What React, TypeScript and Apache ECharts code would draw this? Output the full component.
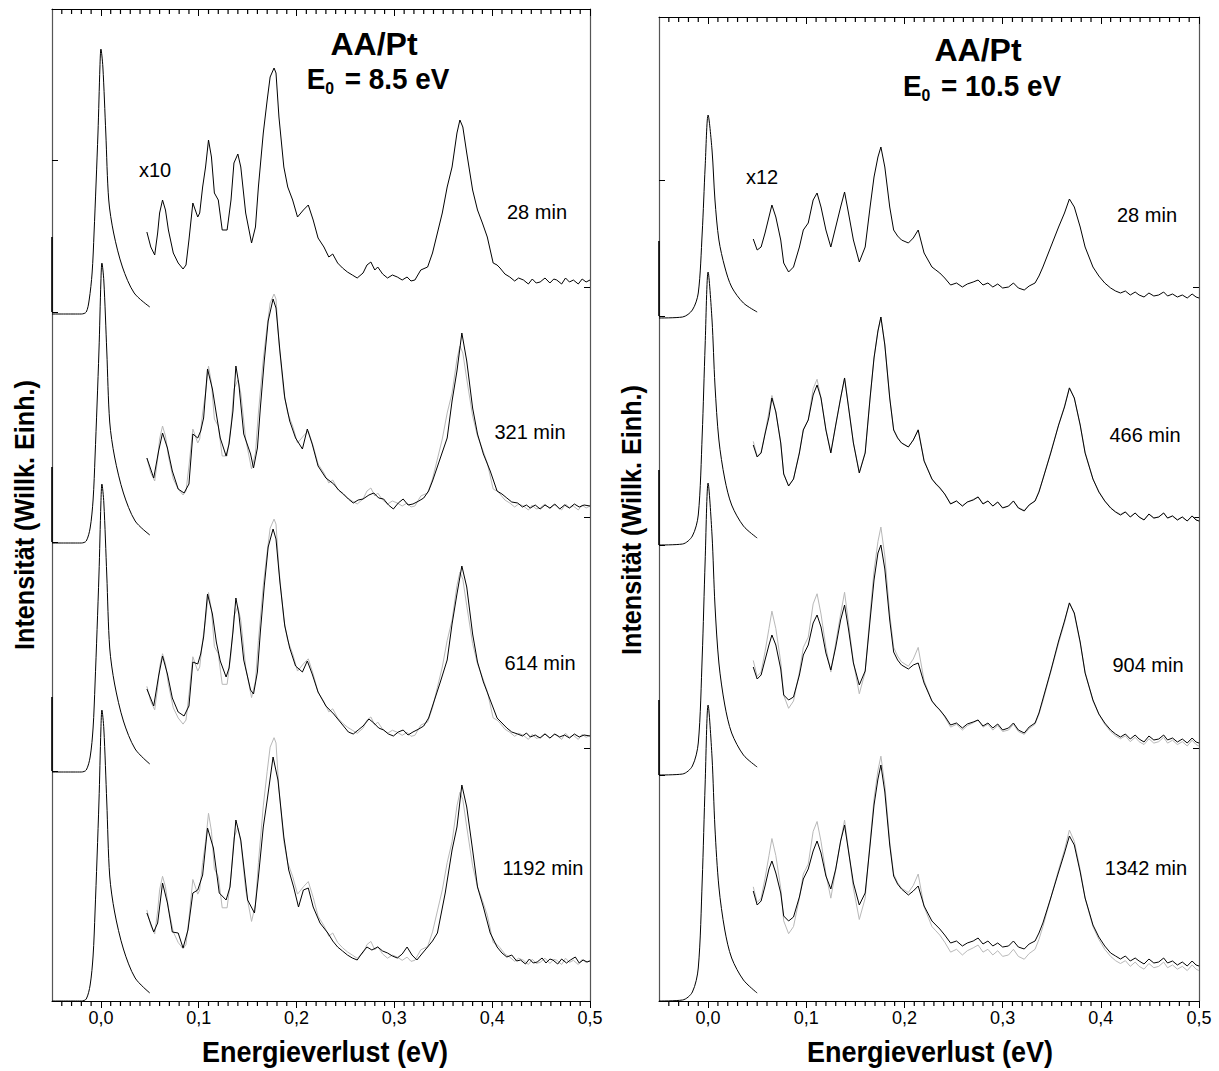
import React, { useEffect, useRef } from "react";
import * as echarts from "echarts";

const FONT = '"Liberation Sans", Arial, Helvetica, sans-serif';

// ---------- axis ticks ----------
const xMajor = [0, 0.1, 0.2, 0.3, 0.4, 0.5];
const xMinor = [-0.04,-0.03,-0.02,-0.01,0.01,0.02,0.03,0.04,0.05,0.06,0.07,0.08,0.09,0.11,0.12,0.13,0.14,0.15,0.16,0.17,0.18,0.19,0.21,0.22,0.23,0.24,0.25,0.26,0.27,0.28,0.29,0.31,0.32,0.33,0.34,0.35,0.36,0.37,0.38,0.39,0.41,0.42,0.43,0.44,0.45,0.46,0.47,0.48,0.49];
const xLabelText = (v: number) => v.toFixed(1).replace(".", ",");

// ---------- LEFT PANEL  (E0 = 8.5 eV, x10) ----------
const L_times = ["28 min", "321 min", "614 min", "1192 min"];
const L_base = [687, 458, 229, 0];
const L_greyOff = [0, 3, 2, 5];
const L_greyScale = [1, 1.0, 1.02, 1.05];
const L_yMax = 992;
const L_leftTicks = [841, 689, 459, 230];
const L_rightTicks = [714, 484, 253];

const L_el_28: [number, number][] = [[-0.05,0],[-0.02,0],[-0.015,2],[-0.012,14],[-0.009,41],[-0.007,81],[-0.003,181],[-0.001,247],[0,265],[0.002,247],[0.005,181],[0.008,114],[0.013,81],[0.022,47],[0.034,21],[0.05,7]];
const L_el_321: [number, number][] = [[-0.05,0],[-0.02,0],[-0.015,2],[-0.011,15],[-0.008,43],[-0.006,86],[-0.002,192],[0,262],[0.001,280],[0.003,262],[0.006,192],[0.009,121],[0.014,86],[0.023,50],[0.035,22],[0.05,8]];
const L_el_614: [number, number][] = [[-0.05,0],[-0.02,0],[-0.015,2],[-0.011,15],[-0.008,44],[-0.006,88],[-0.002,197],[0,269],[0.001,288],[0.003,269],[0.006,197],[0.009,124],[0.014,88],[0.023,51],[0.035,23],[0.05,8]];
const L_el_1192: [number, number][] = [[-0.05,0],[-0.02,0],[-0.015,2],[-0.011,16],[-0.008,45],[-0.006,89],[-0.002,199],[0,272],[0.001,291],[0.003,272],[0.006,199],[0.009,125],[0.014,89],[0.023,52],[0.035,23],[0.05,8]];

const L_loss_28: [number, number][] = [[0.047,82],[0.051,67],[0.055,59],[0.058,81],[0.060,101],[0.063,114],[0.066,104],[0.069,84],[0.074,61],[0.079,51],[0.084,45],[0.087,49],[0.090,74],[0.094,111],[0.099,97],[0.101,101],[0.104,127],[0.107,147],[0.110,174],[0.113,157],[0.116,121],[0.120,114],[0.124,84],[0.129,84],[0.133,114],[0.136,151],[0.140,160],[0.143,147],[0.148,101],[0.154,71],[0.158,87],[0.161,127],[0.166,181],[0.170,214],[0.173,237],[0.177,246],[0.179,241],[0.182,197],[0.187,147],[0.191,127],[0.196,114],[0.201,97],[0.207,104],[0.212,109],[0.217,94],[0.222,76],[0.228,67],[0.233,57],[0.237,60],[0.242,51],[0.247,46],[0.252,42],[0.257,39],[0.262,36],[0.268,41],[0.272,49],[0.276,52],[0.280,44],[0.283,47],[0.288,40],[0.293,36],[0.298,39],[0.303,37],[0.308,34],[0.313,37],[0.317,33],[0.321,34],[0.327,44],[0.334,47],[0.339,61],[0.344,81],[0.349,101],[0.354,127],[0.359,147],[0.364,181],[0.367,194],[0.370,187],[0.374,161],[0.380,124],[0.385,104],[0.390,91],[0.395,77],[0.401,51],[0.405,49],[0.408,46],[0.413,40],[0.418,37],[0.423,33],[0.427,36],[0.432,34],[0.437,30],[0.441,35],[0.445,31],[0.449,32],[0.454,36],[0.459,31],[0.463,35],[0.466,34],[0.471,30],[0.475,36],[0.479,32],[0.483,34],[0.488,30],[0.492,35],[0.496,32],[0.500,34]];
const L_loss_321: [number, number][] = [[0.047,85],[0.054,65],[0.059,92],[0.063,110],[0.068,95],[0.073,72],[0.079,54],[0.085,50],[0.090,59],[0.094,109],[0.099,105],[0.102,112],[0.105,125],[0.109,174],[0.114,154],[0.118,129],[0.122,105],[0.128,87],[0.131,99],[0.135,132],[0.138,177],[0.141,159],[0.146,109],[0.153,89],[0.156,75],[0.160,95],[0.163,135],[0.167,182],[0.171,222],[0.176,244],[0.179,235],[0.183,192],[0.188,145],[0.193,122],[0.199,105],[0.206,94],[0.211,114],[0.216,99],[0.222,77],[0.230,65],[0.238,59],[0.243,53],[0.248,49],[0.253,44],[0.258,40],[0.263,43],[0.268,44],[0.274,48],[0.279,50],[0.284,45],[0.289,44],[0.294,38],[0.299,34],[0.304,40],[0.309,44],[0.314,38],[0.319,39],[0.325,42],[0.330,45],[0.335,52],[0.339,62],[0.347,85],[0.354,105],[0.359,142],[0.364,172],[0.369,210],[0.374,182],[0.380,135],[0.385,109],[0.391,89],[0.398,72],[0.405,52],[0.410,49],[0.415,45],[0.420,41],[0.426,40],[0.431,36],[0.435,38],[0.439,35],[0.444,38],[0.449,34],[0.454,38],[0.459,35],[0.464,39],[0.469,34],[0.474,38],[0.479,35],[0.484,39],[0.489,36],[0.494,38],[0.500,37]];
const L_loss_614: [number, number][] = [[0.047,83],[0.054,66],[0.059,96],[0.063,116],[0.068,98],[0.073,74],[0.079,60],[0.085,56],[0.090,66],[0.094,110],[0.099,108],[0.102,118],[0.105,135],[0.109,178],[0.114,158],[0.118,130],[0.122,111],[0.128,95],[0.131,104],[0.135,140],[0.138,174],[0.141,158],[0.146,112],[0.153,82],[0.156,78],[0.160,100],[0.163,140],[0.167,186],[0.171,225],[0.176,243],[0.179,233],[0.183,190],[0.188,146],[0.193,124],[0.199,106],[0.206,100],[0.211,111],[0.216,98],[0.222,80],[0.230,66],[0.238,58],[0.243,52],[0.248,46],[0.253,40],[0.258,38],[0.263,42],[0.268,46],[0.274,53],[0.279,49],[0.284,44],[0.289,42],[0.294,38],[0.299,36],[0.304,40],[0.309,42],[0.314,37],[0.319,40],[0.325,43],[0.330,46],[0.335,54],[0.339,66],[0.347,90],[0.354,112],[0.359,148],[0.364,178],[0.369,206],[0.374,185],[0.380,138],[0.385,110],[0.391,90],[0.398,72],[0.405,54],[0.410,49],[0.415,44],[0.420,40],[0.426,38],[0.431,36],[0.435,39],[0.439,35],[0.444,37],[0.449,34],[0.454,38],[0.459,34],[0.464,38],[0.469,35],[0.474,37],[0.479,34],[0.484,38],[0.489,35],[0.494,37],[0.500,36]];
const L_loss_1192: [number, number][] = [[0.047,88],[0.054,69],[0.058,78],[0.063,118],[0.068,98],[0.073,69],[0.079,68],[0.084,53],[0.089,71],[0.094,108],[0.099,111],[0.104,126],[0.109,173],[0.115,153],[0.121,108],[0.128,101],[0.132,114],[0.138,181],[0.143,161],[0.150,101],[0.157,88],[0.161,124],[0.166,174],[0.170,201],[0.176,244],[0.181,221],[0.187,164],[0.192,131],[0.197,114],[0.202,94],[0.207,111],[0.212,113],[0.217,94],[0.224,78],[0.232,68],[0.237,60],[0.242,54],[0.247,50],[0.252,46],[0.257,43],[0.262,41],[0.267,48],[0.272,54],[0.277,51],[0.283,54],[0.288,50],[0.293,48],[0.298,45],[0.303,43],[0.308,47],[0.313,54],[0.318,46],[0.323,41],[0.328,47],[0.334,54],[0.339,60],[0.344,68],[0.352,108],[0.359,151],[0.364,174],[0.369,216],[0.374,194],[0.380,151],[0.385,114],[0.391,94],[0.398,68],[0.405,54],[0.410,48],[0.415,44],[0.420,46],[0.425,40],[0.429,41],[0.434,37],[0.438,42],[0.442,38],[0.446,39],[0.451,43],[0.455,38],[0.459,42],[0.462,41],[0.467,37],[0.471,42],[0.476,38],[0.480,41],[0.485,44],[0.489,38],[0.493,41],[0.497,39],[0.500,40]];

// ---------- RIGHT PANEL  (E0 = 10.5 eV, x12) ----------
const R_times = ["28 min", "466 min", "904 min", "1342 min"];
const R_base = [683, 456, 226, 0];
const R_greyOff = [0, -3, 0, 2];
const R_greyScale = [1, 1.35, 1.45, 1.42];
const R_yMax = 984;
const R_leftTicks = [821, 685, 456, 226];
const R_rightTicks = [714, 484, 253];

const R_el_28: [number, number][] = [[-0.05,0],[-0.026,1],[-0.016,8],[-0.010,25],[-0.006,85],[-0.003,151],[0,203],[0.004,168],[0.007,118],[0.011,78],[0.017,51],[0.024,31],[0.036,15],[0.05,6]];
const R_el_466: [number, number][] = [[-0.05,0],[-0.026,1],[-0.016,9],[-0.010,30],[-0.006,110],[-0.003,200],[0,273],[0.004,225],[0.007,160],[0.011,105],[0.017,66],[0.024,40],[0.036,19],[0.05,7]];
const R_el_904: [number, number][] = [[-0.05,0],[-0.026,1],[-0.016,9],[-0.010,32],[-0.006,118],[-0.003,214],[0,292],[0.004,240],[0.007,170],[0.011,112],[0.017,70],[0.024,42],[0.036,20],[0.05,8]];
const R_el_1342: [number, number][] = [[-0.05,0],[-0.026,1],[-0.016,9],[-0.010,33],[-0.006,120],[-0.003,217],[0,296],[0.004,244],[0.007,173],[0.011,114],[0.017,71],[0.024,43],[0.036,21],[0.05,8]];

const R_loss_28: [number, number][] = [[0.046,79],[0.050,68],[0.054,71],[0.058,85],[0.062,101],[0.065,113],[0.069,101],[0.074,78],[0.077,55],[0.082,46],[0.087,51],[0.093,71],[0.097,88],[0.102,95],[0.107,118],[0.111,125],[0.115,111],[0.120,88],[0.125,71],[0.130,91],[0.135,111],[0.139,126],[0.143,105],[0.148,78],[0.154,56],[0.160,71],[0.165,111],[0.169,141],[0.173,161],[0.176,171],[0.180,151],[0.185,111],[0.189,88],[0.193,82],[0.197,78],[0.204,75],[0.209,80],[0.214,88],[0.220,65],[0.228,51],[0.232,48],[0.236,45],[0.241,40],[0.247,33],[0.253,35],[0.259,31],[0.264,34],[0.270,36],[0.275,38],[0.280,33],[0.285,35],[0.290,31],[0.295,34],[0.300,30],[0.306,31],[0.311,35],[0.316,30],[0.322,28],[0.327,32],[0.333,35],[0.337,42],[0.341,51],[0.349,71],[0.357,91],[0.363,105],[0.368,119],[0.373,111],[0.379,91],[0.384,71],[0.392,51],[0.398,42],[0.404,35],[0.410,30],[0.415,27],[0.420,25],[0.425,27],[0.430,23],[0.435,26],[0.439,23],[0.444,21],[0.449,25],[0.454,22],[0.459,23],[0.464,26],[0.468,22],[0.473,24],[0.478,21],[0.483,23],[0.488,20],[0.493,24],[0.497,21],[0.500,20]];
const R_loss_466: [number, number][] = [[0.046,100],[0.050,88],[0.054,92],[0.058,111],[0.062,128],[0.065,147],[0.069,133],[0.074,102],[0.077,71],[0.082,59],[0.087,66],[0.093,92],[0.097,115],[0.102,125],[0.107,150],[0.111,160],[0.115,147],[0.120,115],[0.125,92],[0.130,120],[0.135,147],[0.139,167],[0.143,138],[0.148,102],[0.154,72],[0.160,92],[0.165,147],[0.169,187],[0.173,214],[0.176,228],[0.180,200],[0.185,147],[0.189,115],[0.193,107],[0.197,102],[0.204,98],[0.209,105],[0.214,115],[0.220,84],[0.228,66],[0.232,61],[0.236,57],[0.241,51],[0.247,41],[0.253,44],[0.259,39],[0.264,43],[0.270,45],[0.275,48],[0.280,41],[0.285,44],[0.290,39],[0.295,43],[0.300,37],[0.306,39],[0.311,44],[0.316,37],[0.322,34],[0.327,40],[0.333,44],[0.337,53],[0.341,66],[0.349,92],[0.357,120],[0.363,138],[0.368,157],[0.373,147],[0.379,120],[0.384,92],[0.392,66],[0.398,53],[0.404,44],[0.410,37],[0.415,33],[0.420,30],[0.425,33],[0.430,28],[0.435,32],[0.439,28],[0.444,25],[0.449,31],[0.454,27],[0.459,28],[0.464,32],[0.468,27],[0.473,29],[0.478,25],[0.483,28],[0.488,24],[0.493,29],[0.497,25],[0.500,24]];
const R_loss_904: [number, number][] = [[0.046,108],[0.050,96],[0.054,100],[0.058,115],[0.062,130],[0.065,140],[0.069,130],[0.074,106],[0.077,80],[0.082,75],[0.087,78],[0.093,100],[0.097,120],[0.102,130],[0.107,152],[0.111,160],[0.115,148],[0.120,122],[0.125,105],[0.130,128],[0.135,155],[0.139,170],[0.143,146],[0.148,112],[0.154,90],[0.160,104],[0.165,155],[0.169,195],[0.173,222],[0.176,230],[0.180,206],[0.185,155],[0.189,123],[0.193,115],[0.197,110],[0.204,106],[0.209,110],[0.214,112],[0.220,92],[0.228,74],[0.232,69],[0.236,65],[0.241,59],[0.247,50],[0.253,52],[0.259,47],[0.264,51],[0.270,53],[0.275,55],[0.280,49],[0.285,52],[0.290,47],[0.295,51],[0.300,45],[0.306,47],[0.311,52],[0.316,45],[0.322,42],[0.327,48],[0.333,52],[0.337,62],[0.341,76],[0.349,104],[0.357,134],[0.363,154],[0.368,172],[0.373,162],[0.379,133],[0.384,102],[0.392,75],[0.398,61],[0.404,52],[0.410,45],[0.415,41],[0.420,38],[0.425,41],[0.430,36],[0.435,40],[0.439,36],[0.444,33],[0.449,39],[0.454,35],[0.459,36],[0.464,40],[0.468,35],[0.473,37],[0.478,33],[0.483,36],[0.488,32],[0.493,37],[0.497,33],[0.500,32]];
const R_loss_1342: [number, number][] = [[0.046,110],[0.050,96],[0.054,100],[0.058,115],[0.062,132],[0.065,140],[0.069,128],[0.074,108],[0.077,85],[0.082,80],[0.087,84],[0.093,104],[0.097,122],[0.102,132],[0.107,150],[0.111,160],[0.115,148],[0.120,125],[0.125,112],[0.130,132],[0.135,160],[0.139,176],[0.143,150],[0.148,118],[0.154,96],[0.160,108],[0.165,156],[0.169,196],[0.173,222],[0.176,236],[0.180,209],[0.185,156],[0.189,125],[0.193,117],[0.197,112],[0.204,106],[0.209,110],[0.214,115],[0.220,95],[0.228,80],[0.232,76],[0.236,72],[0.241,66],[0.247,58],[0.253,60],[0.259,55],[0.264,58],[0.270,60],[0.275,63],[0.280,57],[0.285,60],[0.290,55],[0.295,58],[0.300,54],[0.306,55],[0.311,60],[0.316,54],[0.322,52],[0.327,57],[0.333,60],[0.337,68],[0.341,78],[0.349,103],[0.357,129],[0.363,148],[0.368,165],[0.373,156],[0.379,129],[0.384,103],[0.392,76],[0.398,64],[0.404,55],[0.410,48],[0.415,45],[0.420,42],[0.425,45],[0.430,40],[0.435,43],[0.439,40],[0.444,37],[0.449,42],[0.454,38],[0.459,39],[0.464,43],[0.468,38],[0.473,40],[0.478,36],[0.483,39],[0.488,35],[0.493,40],[0.497,36],[0.500,35]];

const L_el = [L_el_28, L_el_321, L_el_614, L_el_1192];
const L_loss = [L_loss_28, L_loss_321, L_loss_614, L_loss_1192];
const R_el = [R_el_28, R_el_466, R_el_904, R_el_1342];
const R_loss = [R_loss_28, R_loss_466, R_loss_904, R_loss_1342];

const shift = (d: [number, number][], b: number) => d.map(([e, v]) => [e, v + b]);
// the grey trace is the first (28 min) spectrum, normalised onto each later spectrum
const refTrace = (d: [number, number][], b: number, off: number, s: number) => d.map(([e, v]) => [e, b + off + s * v]);

function panelSeries(g: number, els: [number, number][][], losses: [number, number][][], bases: number[], gOff: number[], gScale: number[]) {
  const out: any[] = [];
  const xi = g * 2;
  const yi = g * 2;
  for (let k = 1; k < 4; k++) {
    out.push({
      type: "line", xAxisIndex: xi, yAxisIndex: yi, data: refTrace(losses[0], bases[k], gOff[k], gScale[k]),
      showSymbol: false, silent: true, z: 2,
      lineStyle: { color: "#b8b8b8", width: 1 },
    });
  }
  for (let k = 0; k < 4; k++) {
    out.push({
      type: "line", xAxisIndex: xi, yAxisIndex: yi, data: shift(els[k], bases[k]),
      showSymbol: false, silent: true, z: 3, smooth: 0.3,
      lineStyle: { color: "#000", width: 1 },
    });
    out.push({
      type: "line", xAxisIndex: xi, yAxisIndex: yi, data: shift(losses[k], bases[k]),
      showSymbol: false, silent: true, z: 3,
      lineStyle: { color: "#000", width: 1 },
    });
  }
  // minor ticks every 0.01 eV, drawn on the frame through the axis scale
  out.push({
    type: "custom", xAxisIndex: xi, yAxisIndex: yi, silent: true, clip: false, z: 6,
    data: xMinor.map((v) => [v, 0]),
    encode: { x: 0, y: 1 },
    renderItem: (params: any, api: any) => {
      const cs = params.coordSys;
      const x = api.coord([api.value(0), 0])[0];
      return {
        type: "group",
        children: [
          { type: "rect", shape: { x: x - 0.6, y: cs.y + cs.height, width: 1.2, height: 5 }, style: { fill: "#000" } },
          { type: "rect", shape: { x: x - 0.6, y: cs.y, width: 1.2, height: 5 }, style: { fill: "#000" } },
        ],
      };
    },
  });
  return out;
}

function xAxes(g: number) {
  const common = { gridIndex: g, type: "value", min: -0.05, max: 0.5, splitLine: { show: false }, offset: 0 };
  return [
    {
      ...common, position: "bottom",
      axisLine: { show: true, onZero: false, lineStyle: { color: "#000", width: 1 } },
      axisTick: { show: true, customValues: xMajor, length: 7, inside: false, lineStyle: { color: "#000" } },
      axisLabel: { show: true, customValues: xMajor, formatter: (v: number) => xLabelText(v), fontSize: 18, color: "#000", fontFamily: FONT, margin: 8 },
    },
    {
      ...common, position: "top",
      axisLine: { show: true, onZero: false, lineStyle: { color: "#000", width: 1 } },
      axisTick: { show: true, customValues: xMajor, length: 7, inside: true, lineStyle: { color: "#000" } },
      axisLabel: { show: false },
    },
  ];
}

function yAxes(g: number, max: number, leftTicks: number[], rightTicks: number[]) {
  const common = { gridIndex: g, type: "value", min: 0, max, splitLine: { show: false }, axisLabel: { show: false }, offset: 0 };
  return [
    {
      ...common, position: "left",
      axisLine: { show: true, onZero: false, lineStyle: { color: "#555", width: 1.2 } },
      axisTick: { show: true, customValues: leftTicks, length: 6, inside: true, lineStyle: { color: "#000" } },
    },
    {
      ...common, position: "right",
      axisLine: { show: true, onZero: false, lineStyle: { color: "#555", width: 1.2 } },
      axisTick: { show: true, customValues: rightTicks, length: 6, inside: true, lineStyle: { color: "#000" } },
    },
  ];
}

function txt(x: number, y: number, text: string, size: number, bold = false, align = "center", extra: any = {}) {
  return {
    type: "text", x, y, z: 10, ...extra,
    style: { text, font: `${bold ? "bold " : ""}${size}px ${FONT}`, fill: "#000", textAlign: align, textVerticalAlign: "middle" },
  };
}

function e0Label(cx: number, y: number, value: string) {
  return {
    type: "text", x: cx, y, z: 10, scaleX: 0.93,
    style: {
      text: `{a|E}{s|0}{a| = ${value}}`, textAlign: "center", textVerticalAlign: "middle",
      rich: {
        a: { fontFamily: FONT, fontWeight: "bold", fontSize: 30, fill: "#000", color: "#000" },
        s: { fontFamily: FONT, fontWeight: "bold", fontSize: 17, fill: "#000", color: "#000", padding: [18, 3, 0, 0] },
      },
    },
  };
}

function axisBand(x: number, y1: number, y2: number) {
  return { type: "line", z: 20, shape: { x1: x, y1, x2: x, y2 }, style: { stroke: "#000", lineWidth: 1.6 } };
}

export default function App() {
  const ref = useRef<HTMLDivElement>(null);
  useEffect(() => {
    if (!ref.current) return;
    const chart = echarts.init(ref.current, undefined, { renderer: "svg" });
    const option: any = {
      animation: false,
      backgroundColor: "#fff",
      grid: [
        { left: 52, top: 9, width: 538, height: 992 },
        { left: 659, top: 17, width: 540, height: 984 },
      ],
      xAxis: [...xAxes(0), ...xAxes(1)],
      yAxis: [...yAxes(0, L_yMax, L_leftTicks, L_rightTicks), ...yAxes(1, R_yMax, R_leftTicks, R_rightTicks)],
      series: [
        ...panelSeries(0, L_el, L_loss, L_base, L_greyOff, L_greyScale),
        ...panelSeries(1, R_el, R_loss, R_base, R_greyOff, R_greyScale),
      ],
      graphic: [
        txt(374, 44, "AA/Pt", 32, true),
        e0Label(378, 79, "8.5 eV"),
        txt(978, 50, "AA/Pt", 32, true),
        e0Label(982, 86, "10.5 eV"),
        txt(155, 170, "x10", 20),
        txt(762, 177, "x12", 20),
        txt(537, 212, L_times[0], 20),
        txt(530, 432, L_times[1], 20),
        txt(540, 663, L_times[2], 20),
        txt(543, 868, L_times[3], 20),
        txt(1147, 215, R_times[0], 20),
        txt(1145, 435, R_times[1], 20),
        txt(1148, 665, R_times[2], 20),
        txt(1146, 868, R_times[3], 20),
        txt(325, 1051, "Energieverlust (eV)", 30, true, "center", { scaleX: 0.9 }),
        txt(930, 1051, "Energieverlust (eV)", 30, true, "center", { scaleX: 0.9 }),
        txt(25, 515, "Intensität (Willk. Einh.)", 28, true, "center", { rotation: Math.PI / 2, scaleX: 0.9 }),
        txt(632, 520, "Intensität (Willk. Einh.)", 28, true, "center", { rotation: Math.PI / 2, scaleX: 0.9 }),
        axisBand(52, 237, 312), axisBand(52, 467, 542), axisBand(52, 697, 771),
        axisBand(659, 241, 316), axisBand(659, 470, 545), axisBand(659, 700, 775),
      ],
    };
    chart.setOption(option);
    return () => chart.dispose();
  }, []);
  return (
    <div
      ref={ref}
      style={{ position: "absolute", left: 0, top: 0, width: 1219, height: 1071, background: "#fff" }}
    />
  );
}
